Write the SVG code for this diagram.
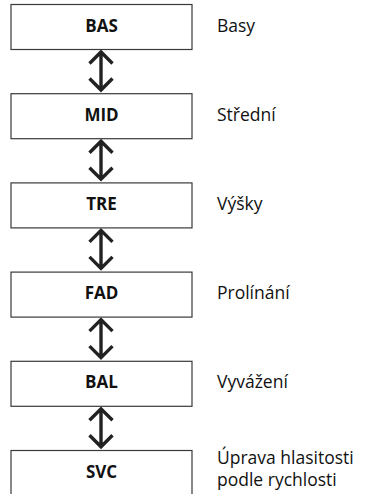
<svg xmlns="http://www.w3.org/2000/svg" width="368" height="494" viewBox="0 0 368 494">
<style>
.box{fill:#fff;stroke:#3a3a3a;stroke-width:1.2}
.bl{font-family:"Open Sans","Noto Sans",sans-serif;font-weight:700;font-size:17px;fill:#111;text-anchor:middle}
.lb{font-family:"Open Sans","Noto Sans",sans-serif;font-size:17.5px;fill:#111}
.arr{fill:none;stroke:#222;stroke-width:3.4;stroke-linejoin:miter;stroke-linecap:butt}
</style>
<rect width="368" height="494" fill="#fff"/>
<g id="connectors">
<path class="arr" d="M101,52V90M89.5,63.5L101,52L112.5,63.5M89.5,78.5L101,90L112.5,78.5"/>
<path class="arr" transform="translate(0,89.2)" d="M101,52V90M89.5,63.5L101,52L112.5,63.5M89.5,78.5L101,90L112.5,78.5"/>
<path class="arr" transform="translate(0,178.4)" d="M101,52V90M89.5,63.5L101,52L112.5,63.5M89.5,78.5L101,90L112.5,78.5"/>
<path class="arr" transform="translate(0,267.6)" d="M101,52V90M89.5,63.5L101,52L112.5,63.5M89.5,78.5L101,90L112.5,78.5"/>
<path class="arr" transform="translate(0,356.8)" d="M101,52V90M89.5,63.5L101,52L112.5,63.5M89.5,78.5L101,90L112.5,78.5"/>
</g>
<g id="bas"><rect class="box" x="11" y="4.5" width="181" height="45"/><text class="bl" x="101.5" y="31.5">BAS</text><text class="lb" x="217" y="31.5">Basy</text></g>
<g id="mid"><rect class="box" x="11" y="93.7" width="181" height="45"/><text class="bl" x="101.5" y="120.7">MID</text><text class="lb" x="217" y="120.7">Střední</text></g>
<g id="tre"><rect class="box" x="11" y="182.9" width="181" height="45"/><text class="bl" x="101.5" y="209.9">TRE</text><text class="lb" x="217" y="209.9">Výšky</text></g>
<g id="fad"><rect class="box" x="11" y="272.1" width="181" height="45"/><text class="bl" x="101.5" y="299.1">FAD</text><text class="lb" x="217" y="299.1">Prolínání</text></g>
<g id="bal"><rect class="box" x="11" y="361.3" width="181" height="45"/><text class="bl" x="101.5" y="388.3">BAL</text><text class="lb" x="217" y="388.3">Vyvážení</text></g>
<g id="svc"><rect class="box" x="11" y="450.5" width="181" height="45"/><text class="bl" x="101.5" y="477.5">SVC</text><text class="lb" x="217" y="463.5">Úprava hlasitosti</text><text class="lb" x="217" y="485.5">podle rychlosti</text></g>
</svg>
